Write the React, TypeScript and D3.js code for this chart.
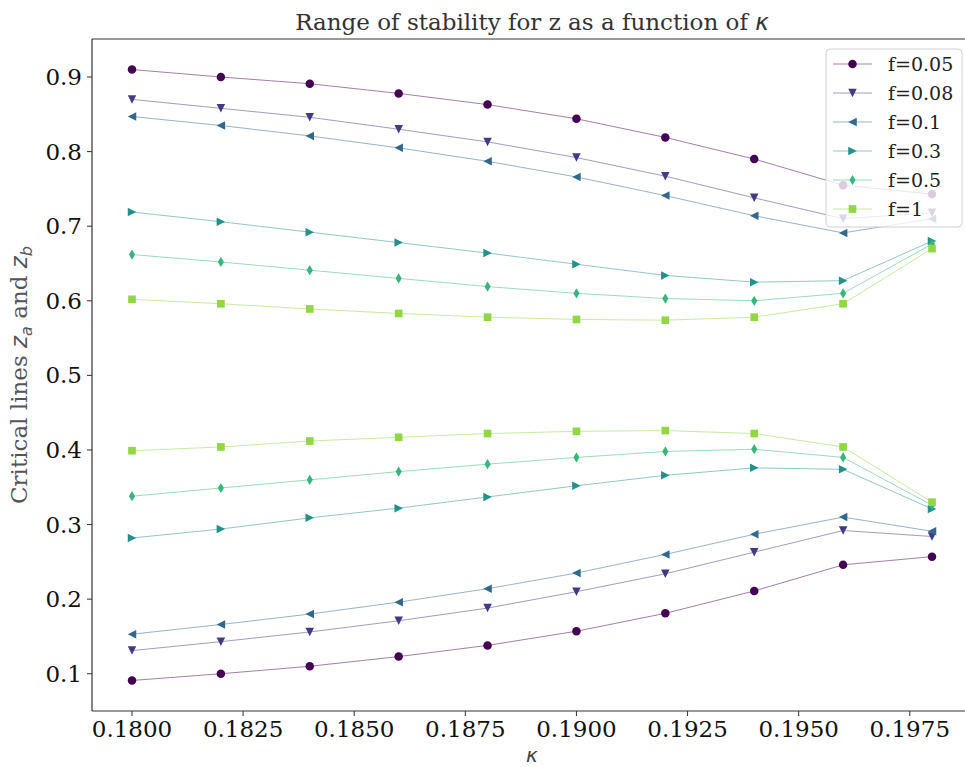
import React from "react";
import * as d3 from "d3";

const kappa = [0.18, 0.182, 0.184, 0.186, 0.188, 0.19, 0.192, 0.194, 0.196, 0.198];
const fLabels = ["f=0.05", "f=0.08", "f=0.1", "f=0.3", "f=0.5", "f=1"];
const markerTypes = ["circle", "tdown", "tleft", "tright", "thindiamond", "square"];

const upper005 = [0.910, 0.900, 0.891, 0.878, 0.863, 0.844, 0.819, 0.790, 0.755, 0.743];
const upper008 = [0.870, 0.858, 0.846, 0.830, 0.813, 0.792, 0.767, 0.738, 0.710, 0.718];
const upper01 = [0.847, 0.835, 0.821, 0.805, 0.787, 0.766, 0.741, 0.714, 0.691, 0.710];
const upper03 = [0.719, 0.706, 0.692, 0.678, 0.664, 0.649, 0.634, 0.625, 0.627, 0.680];
const upper05 = [0.662, 0.652, 0.641, 0.630, 0.619, 0.610, 0.603, 0.600, 0.610, 0.676];
const upper1 = [0.602, 0.596, 0.589, 0.583, 0.578, 0.575, 0.574, 0.578, 0.596, 0.670];

const lower005 = [0.091, 0.100, 0.110, 0.123, 0.138, 0.157, 0.181, 0.211, 0.246, 0.257];
const lower008 = [0.131, 0.143, 0.156, 0.171, 0.188, 0.210, 0.234, 0.263, 0.292, 0.284];
const lower01 = [0.153, 0.166, 0.180, 0.196, 0.214, 0.235, 0.260, 0.287, 0.310, 0.291];
const lower03 = [0.282, 0.294, 0.309, 0.322, 0.337, 0.352, 0.366, 0.376, 0.374, 0.321];
const lower05 = [0.338, 0.349, 0.360, 0.371, 0.381, 0.390, 0.398, 0.401, 0.390, 0.326];
const lower1 = [0.399, 0.404, 0.412, 0.417, 0.422, 0.425, 0.426, 0.422, 0.404, 0.330];

const uppers = [upper005, upper008, upper01, upper03, upper05, upper1];
const lowers = [lower005, lower008, lower01, lower03, lower05, lower1];

const xTicks = [0.18, 0.1825, 0.185, 0.1875, 0.19, 0.1925, 0.195, 0.1975];
const yTicks = [0.1, 0.2, 0.3, 0.4, 0.5, 0.6, 0.7, 0.8, 0.9];

const W = 965;
const H = 767;
const M = { left: 92, top: 39, right: 972, bottom: 711 };
const FONT = "DejaVu Serif";

function markerPath(type: string, s: number): string {
  const h = s / 2;
  switch (type) {
    case "circle":
      return `M${h},0A${h},${h} 0 1,1 ${-h},0A${h},${h} 0 1,1 ${h},0Z`;
    case "tdown":
      return `M0,${h}L${-h},${-h}L${h},${-h}Z`;
    case "tleft":
      return `M${-h},0L${h},${-h}L${h},${h}Z`;
    case "tright":
      return `M${h},0L${-h},${-h}L${-h},${h}Z`;
    case "thindiamond": {
      const dy = h * 1.2;
      const dx = dy * 0.6;
      return `M0,${-dy}L${dx},0L0,${dy}L${-dx},0Z`;
    }
    case "square": {
      const q = h * 0.9;
      return `M${-q},${-q}L${q},${-q}L${q},${q}L${-q},${q}Z`;
    }
  }
  return "";
}

export default function App() {
  const allVals = [...uppers.flat(), ...lowers.flat()];
  const [ymin, ymax] = d3.extent(allVals) as [number, number];
  const yPad = (ymax - ymin) * 0.05;
  const [xmin, xmax] = d3.extent(kappa) as [number, number];
  const xPad = (xmax - xmin) * 0.05;

  const x = d3.scaleLinear().domain([xmin - xPad, xmax + xPad]).range([M.left, M.right]);
  const y = d3.scaleLinear().domain([ymin - yPad, ymax + yPad]).range([M.bottom, M.top]);

  const colors = fLabels.map((_, i) => d3.interpolateViridis(i / 6));
  const line = d3
    .line<number>()
    .x((_, i) => x(kappa[i]))
    .y((d) => y(d));

  const legendX = 826;
  const legendY = 49;
  const legendW = 136;
  const legendH = 178;
  const rowH = 29;

  return (
    <svg
      width={W}
      height={H}
      style={{ position: "absolute", left: 0, top: 0, background: "#fff" }}
      fontFamily={FONT}
    >
      <rect x={0} y={0} width={W} height={H} fill="#fff" />
      <defs>
        <clipPath id="plotclip">
          <rect x={M.left} y={M.top} width={M.right - M.left} height={M.bottom - M.top} />
        </clipPath>
      </defs>

      {/* series */}
      <g clipPath="url(#plotclip)">
        {fLabels.map((lab, i) => (
          <g key={lab}>
            {[uppers[i], lowers[i]].map((arr, j) => (
              <g key={j}>
                <path d={line(arr) || ""} fill="none" stroke={colors[i]} strokeWidth={1} strokeOpacity={0.5} />
                {arr.map((v, k) => (
                  <path
                    key={k}
                    d={markerPath(markerTypes[i], 8.5)}
                    transform={`translate(${x(kappa[k])},${y(v)})`}
                    fill={colors[i]}
                  />
                ))}
              </g>
            ))}
          </g>
        ))}
      </g>

      {/* spines */}
      <line x1={M.left} x2={M.left} y1={M.top} y2={M.bottom} stroke="#333" strokeWidth={1.2} />
      <line x1={M.left} x2={M.right} y1={M.bottom} y2={M.bottom} stroke="#333" strokeWidth={1.2} />
      <line x1={M.left} x2={M.right} y1={M.top} y2={M.top} stroke="#333" strokeWidth={1.2} />
      <line x1={M.right} x2={M.right} y1={M.top} y2={M.bottom} stroke="#333" strokeWidth={1.2} />

      {/* x ticks */}
      {xTicks.map((t) => (
        <g key={t} transform={`translate(${x(t)},0)`}>
          <line y1={M.bottom} y2={M.bottom + 5} stroke="#333" strokeWidth={1} />
          <text y={737} textAnchor="middle" fontSize={23} fill="#111">
            {d3.format(".4f")(t)}
          </text>
        </g>
      ))}

      {/* y ticks */}
      {yTicks.map((t) => (
        <g key={t} transform={`translate(0,${y(t)})`}>
          <line x1={M.left - 5} x2={M.left} stroke="#333" strokeWidth={1} />
          <text x={82} y={8} textAnchor="end" fontSize={23} fill="#111">
            {d3.format(".1f")(t)}
          </text>
        </g>
      ))}

      {/* title */}
      <text x={(M.left + M.right) / 2} y={30} textAnchor="middle" fontSize={23} fill="#333">
        Range of stability for z as a function of{" "}
        <tspan fontFamily="DejaVu Sans" fontStyle="italic">κ</tspan>
      </text>

      {/* x label */}
      <text x={(M.left + M.right) / 2} y={762} textAnchor="middle" fontSize={20} fill="#444" fontFamily="DejaVu Sans" fontStyle="italic">
        κ
      </text>

      {/* y label */}
      <text
        transform={`translate(27,${(M.top + M.bottom) / 2}) rotate(-90)`}
        textAnchor="middle"
        fontSize={23}
        fill="#555"
      >
        Critical lines{" "}
        <tspan fontFamily="DejaVu Sans" fontStyle="italic">z</tspan>
        <tspan fontFamily="DejaVu Sans" fontStyle="italic" fontSize={16} dy={5}>a</tspan>
        <tspan dy={-5}> and </tspan>
        <tspan fontFamily="DejaVu Sans" fontStyle="italic">z</tspan>
        <tspan fontFamily="DejaVu Sans" fontStyle="italic" fontSize={16} dy={5}>b</tspan>
      </text>

      {/* legend */}
      <g>
        <rect
          x={legendX}
          y={legendY}
          width={legendW}
          height={legendH}
          rx={4}
          fill="#fff"
          fillOpacity={0.8}
          stroke="#d0d0d0"
          strokeWidth={1}
        />
        {fLabels.map((lab, i) => {
          const cy = legendY + 15 + i * rowH;
          return (
            <g key={lab}>
              <line x1={833} x2={872} y1={cy} y2={cy} stroke={colors[i]} strokeWidth={1} strokeOpacity={0.5} />
              <path d={markerPath(markerTypes[i], 8.5)} transform={`translate(852.5,${cy})`} fill={colors[i]} />
              <text x={888} y={cy + 7} fontSize={19} fill="#222">
                {lab}
              </text>
            </g>
          );
        })}
      </g>
    </svg>
  );
}
